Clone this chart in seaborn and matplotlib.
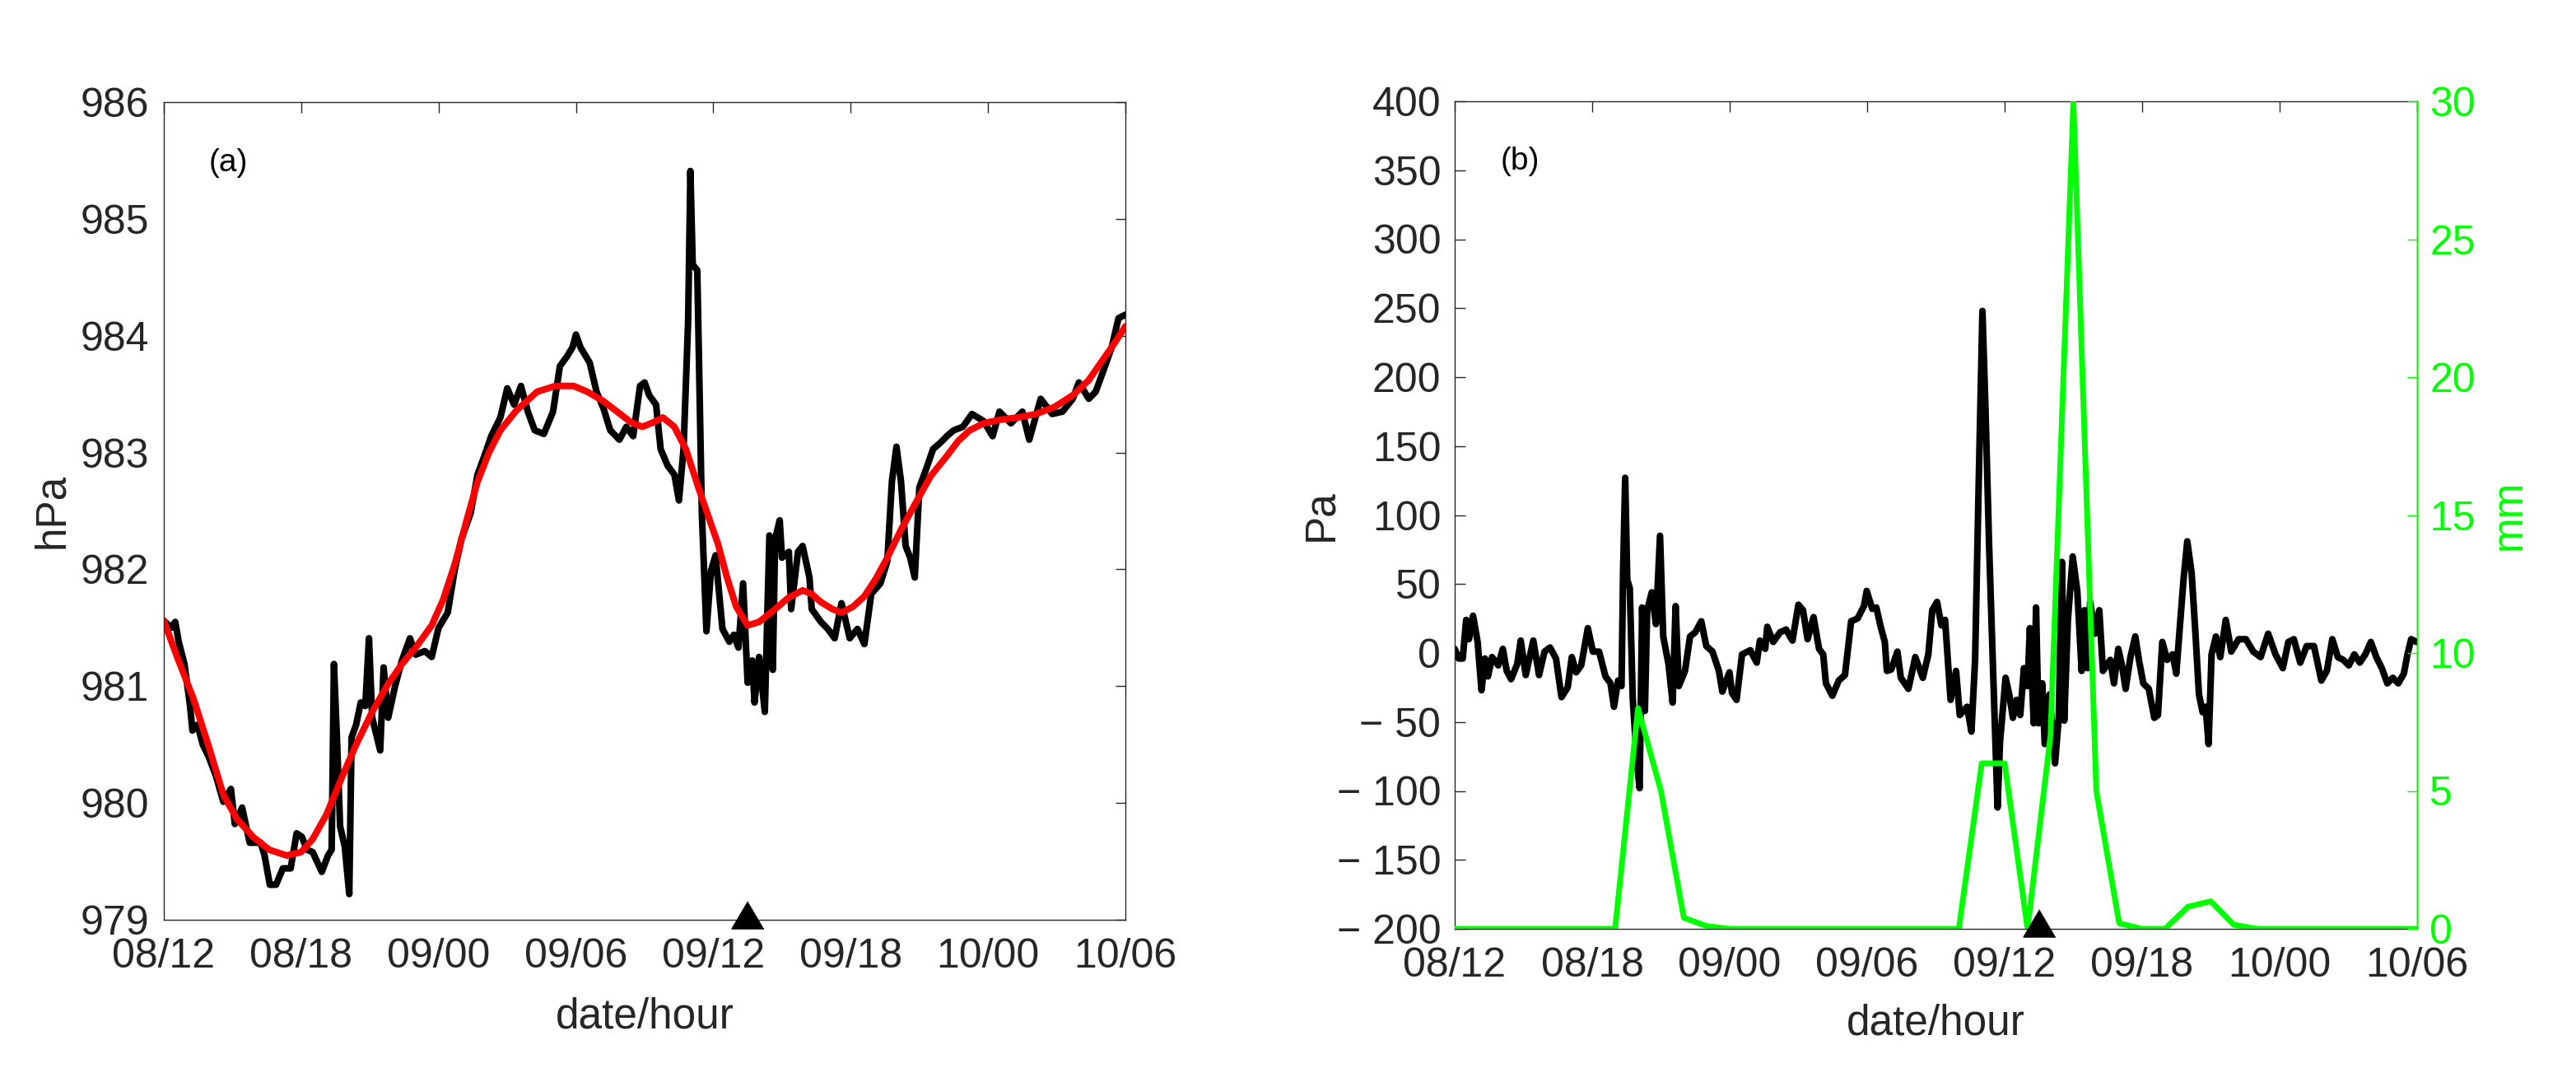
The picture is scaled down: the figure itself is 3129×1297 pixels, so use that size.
import matplotlib
matplotlib.use("Agg")
import matplotlib.pyplot as plt
import matplotlib.transforms as mtransforms
import seaborn as sns

# hours after 08/12 (day/hour)
hours_a = [0, 0.33, 0.5, 0.65, 0.9, 1.14, 1.25, 1.47, 1.7, 1.95, 2.28, 2.6, 2.93, 3.1, 3.42, 3.75,
           4.23, 4.4, 4.63, 4.9, 5.2, 5.54, 5.8, 6.03, 6.25, 6.5, 6.9, 7.17, 7.33, 7.43, 7.56, 7.7,
           7.9, 8.1, 8.2, 8.4, 8.6, 8.8, 8.96, 9.1, 9.45, 9.6, 9.8, 10.1, 10.4, 10.75, 11.0, 11.4,
           11.7, 12.0, 12.4, 12.7, 13.0, 13.4, 13.7, 14.0, 14.3, 14.7, 15.0, 15.3, 15.6, 15.9,
           16.2, 16.6, 17.0, 17.3, 17.6, 17.85, 18.0, 18.2, 18.6, 18.9, 19.2, 19.5, 19.9, 20.2,
           20.5, 20.8, 21.0, 21.2, 21.5, 21.7, 22.0, 22.3, 22.5, 22.7, 22.9, 23.0, 23.1, 23.3,
           23.5, 23.7, 23.9, 24.1, 24.4, 24.7, 24.9, 25.1, 25.3, 25.5, 25.7, 25.8, 26.0, 26.25,
           26.45, 26.6, 26.7, 26.9, 27.0, 27.3, 27.4, 27.7, 27.9, 28.2, 28.3, 28.7, 29.0, 29.3,
           29.6, 29.96, 30.3, 30.6, 30.9, 31.3, 31.6, 31.8, 32.0, 32.2, 32.4, 32.6, 32.8, 33.0,
           33.3, 33.6, 33.9, 34.2, 34.5, 34.9, 35.3, 35.8, 36.2, 36.5, 37.0, 37.5, 37.8, 38.3,
           38.8, 39.25, 39.7, 39.97, 40.4, 40.7, 41.0, 41.4, 41.7, 42.0]
press_a = [981.56, 981.5, 981.55, 981.38, 981.19, 980.84, 980.62, 980.67, 980.5, 980.4, 980.23,
           980.01, 980.12, 979.82, 979.96, 979.66, 979.66, 979.55, 979.3, 979.3, 979.44, 979.44,
           979.74, 979.71, 979.6, 979.58, 979.41, 979.55, 979.6, 981.19, 980.56, 979.8, 979.63,
           979.22, 980.56, 980.67, 980.86, 980.83, 981.41, 980.73, 980.45, 981.16, 980.73, 981.0,
           981.22, 981.41, 981.27, 981.3, 981.25, 981.5, 981.63, 981.99, 982.26, 982.48, 982.81,
           982.97, 983.14, 983.3, 983.55, 983.41, 983.57, 983.35, 983.19, 983.16, 983.35, 983.74,
           983.82, 983.9, 984.01, 983.9, 983.77, 983.52, 983.38, 983.19, 983.11, 983.22, 983.14,
           983.57, 983.6, 983.49, 983.41, 983.03, 982.89, 982.81, 982.59, 983.03, 984.12, 985.41,
           984.61, 984.56, 982.48, 981.47, 981.99, 982.12, 981.49, 981.38, 981.44, 981.33, 981.88,
           981.03, 981.22, 980.86, 981.25, 980.78, 982.29, 981.14, 982.26, 982.42, 982.1, 982.15,
           981.66, 982.15, 982.2, 981.93, 981.66, 981.55, 981.49, 981.41, 981.71, 981.41, 981.49,
           981.36, 981.79, 981.88, 982.07, 982.75, 983.05, 982.75, 982.2, 982.1, 981.93, 982.7,
           982.86, 983.03, 983.08, 983.14, 983.19, 983.22, 983.33, 983.27, 983.14, 983.35, 983.25,
           983.35, 983.11, 983.46, 983.33, 983.35, 983.46, 983.6, 983.46, 983.52, 983.68, 983.9,
           984.15, 984.18]

hours_fit = [0, 0.6, 1.3, 2.0, 2.6, 3.2, 3.9, 4.6, 5.37, 6.0, 6.5, 7.1, 7.8, 8.4, 9.1, 9.8,
             10.4, 11.0, 11.7, 12.2, 12.7, 13.2, 13.7, 14.2, 14.7, 15.4, 16.3, 17.1, 17.9, 18.5,
             19.2, 19.8, 20.4, 20.9, 21.4, 21.8, 22.3, 22.8, 23.4, 24.2, 24.6, 25.0, 25.5, 26.0,
             26.7, 27.3, 27.9, 28.3, 28.7, 29.2, 29.6, 30.1, 30.6, 31.1, 31.6, 32.2, 32.9, 33.5,
             34.2, 34.7, 35.2, 35.8, 36.5, 37.3, 38.1, 38.9, 39.7, 40.4, 41.0, 41.5, 42.0]
press_fit = [981.56, 981.24, 980.89, 980.46, 980.07, 979.86, 979.71, 979.6, 979.55, 979.58,
             979.69, 979.9, 980.23, 980.5, 980.78, 981.02, 981.19, 981.33, 981.52, 981.74,
             982.04, 982.4, 982.75, 983.0, 983.19, 983.36, 983.52, 983.57, 983.57, 983.52,
             983.44, 983.35, 983.26, 983.22, 983.26, 983.3, 983.22, 983.03, 982.67, 982.22,
             981.93, 981.68, 981.52, 981.55, 981.66, 981.76, 981.82, 981.79, 981.72, 981.66,
             981.63, 981.68, 981.77, 981.92, 982.1, 982.34, 982.59, 982.8, 982.97, 983.1,
             983.19, 983.25, 983.28, 983.3, 983.33, 983.39, 983.49, 983.62, 983.79, 983.93,
             984.08]

hours_b = [0, 0.17, 0.35, 0.5, 0.62, 0.8, 1.0, 1.17, 1.32, 1.45, 1.63, 1.9, 2.1, 2.27, 2.46,
           2.73, 2.88, 3.1, 3.43, 3.68, 3.92, 4.16, 4.42, 4.66, 4.93, 5.11, 5.3, 5.52, 5.81,
           6.03, 6.3, 6.58, 6.8, 6.95, 7.13, 7.28, 7.35, 7.44, 7.53, 7.64, 7.77, 7.95, 8.07,
           8.18, 8.3, 8.4, 8.6, 8.78, 8.96, 9.1, 9.33, 9.51, 9.64, 9.78, 10.05, 10.27, 10.5,
           10.76, 10.98, 11.25, 11.53, 11.68, 11.99, 12.1, 12.3, 12.54, 12.9, 13.18, 13.32,
           13.55, 13.64, 13.9, 14.2, 14.46, 14.74, 15.0, 15.2, 15.4, 15.66, 15.9, 16.08, 16.2,
           16.48, 16.76, 17.03, 17.3, 17.58, 17.86, 17.98, 18.22, 18.4, 18.59, 18.77, 18.86,
           19.05, 19.32, 19.47, 19.8, 20.1, 20.43, 20.67, 20.84, 21.05, 21.24, 21.4, 21.64,
           21.88, 22.04, 22.36, 22.55, 22.71, 22.87, 23.03, 23.16, 23.32, 23.48, 23.69, 23.8,
           24.04, 24.2, 24.36, 24.52, 24.68, 24.84, 25.0, 25.1, 25.27, 25.37, 25.48, 25.64,
           25.75, 25.96, 26.2, 26.36, 26.5, 26.6, 26.76, 26.97, 27.17, 27.36, 27.49, 27.62,
           27.73, 27.94, 28.13, 28.29, 28.61, 28.77, 28.96, 29.12, 29.28, 29.49, 29.7, 29.86,
           30.05, 30.29, 30.53, 30.69, 30.88, 31.09, 31.33, 31.49, 31.65, 31.81, 31.97, 32.16,
           32.32, 32.48, 32.64, 32.77, 32.9, 33.03, 33.22, 33.41, 33.65, 33.89, 34.21, 34.53,
           34.85, 35.17, 35.5, 35.82, 36.14, 36.38, 36.62, 36.9, 37.18, 37.5, 37.82, 38.06,
           38.3, 38.54, 38.78, 39.02, 39.26, 39.5, 39.74, 39.98, 40.22, 40.46, 40.7, 40.94,
           41.18, 41.42, 41.58, 41.74, 41.98]
anom_b = [3, -4, -4, 24, 10, 27, 8, -27, -4, -17, -3, -9, 3, -13, -19, -8, 9, -16, 9, -16, 1,
          4, -4, -32, -25, -3, -14, -9, 18, 1, 1, -17, -22, -39, -20, -24, 60, 127, 53, 47, -33,
          -79, -98, 33, -42, 31, 44, 21, 85, 12, -8, -36, 34, -24, -13, 12, 15, 23, 5, 1, -13,
          -28, -14, -29, -34, -1, 2, -7, 9, 3, 19, 8, 15, 17, 9, 35, 31, 10, 26, 3, -1, -22, -31,
          -20, -16, 23, 25, 34, 45, 32, 33, 19, 8, -13, -12, 1, -18, -26, -3, -18, -1, 31, 37,
          20, 24, -34, -13, -45, -39, -57, -5, 125, 248, 179, 79, -5, -112, -64, -18, -30, -47,
          -34, -45, -11, -24, 18, -51, 33, -51, -22, -66, -30, -80, -47, 66, -49, 24, 70, 45,
          -13, 31, -11, 37, 14, 31, -13, -5, -22, 3, -9, -26, -3, 12, -5, -22, -26, -47, -45, 8,
          -5, -1, -15, 20, 54, 81, 58, 16, -30, -43, -39, -66, -1, 12, -3, 24, 1, 10, 10, 1, -3,
          14, -1, -11, 8, 10, -7, 5, 5, -20, -13, 10, -3, -5, -9, -1, -7, -1, 8, -3, -11, -22,
          -18, -22, -15, -1, 10, 8]

rain_hours = list(range(43))
rain_mm = [0, 0, 0, 0, 0, 0, 0, 0, 8, 5, 0.4, 0.1, 0, 0, 0, 0, 0, 0, 0, 0, 0, 0, 0, 6, 6, 0,
           7, 30, 5, 0.2, 0, 0, 0.8, 1.0, 0.15, 0, 0, 0, 0, 0, 0, 0, 0]

event_hour = 25.5
tick_hours = [0, 6, 12, 18, 24, 30, 36, 42]
tick_labels = ["08/12", "08/18", "09/00", "09/06", "09/12", "09/18", "10/00", "10/06"]

sns.set_theme(style="white")
plt.rcParams['font.family'] = ['Liberation Sans', 'DejaVu Sans']

dark = "#262626"
green = "#00ff00"
tri = [(0, 0.85), (-1, -0.85), (1, -0.85)]

fig = plt.figure(figsize=(31.29, 12.97), dpi=100)
ax_a = fig.add_axes([199 / 3129, 180 / 1297, 1168 / 3129, 993 / 1297])
ax_b = fig.add_axes([1767 / 3129, 169 / 1297, 1169 / 3129, 1005 / 1297])


def style_axes(ax):
    for s in ax.spines.values():
        s.set_color(dark)
        s.set_linewidth(1.0)
        s.set_visible(True)
    ax.tick_params(direction="in", length=9, width=1, colors=dark, labelsize=36,
                   top=True, right=True)
    ax.tick_params(axis="x", pad=16)
    ax.set_xlim(0, 42)
    ax.set_xticks(tick_hours)
    ax.set_xticklabels(tick_labels)
    ax.set_xlabel("date/hour", fontsize=37, color=dark)
    ax.grid(False)


# panel (a)
sns.lineplot(x=hours_a, y=press_a, ax=ax_a, color="black", linewidth=5.8,
             estimator=None, sort=False)
sns.lineplot(x=hours_fit, y=press_fit, ax=ax_a, color="red", linewidth=5.8,
             estimator=None, sort=False)
style_axes(ax_a)
ax_a.set_ylim(979, 986)
ax_a.set_yticks(range(979, 987))
ax_a.tick_params(axis="y", pad=13)
ax_a.set_ylabel("hPa", fontsize=37, color=dark)
ax_a.yaxis.set_label_coords(-0.095, 0.5)
ax_a.xaxis.set_label_coords(0.5, -0.094)
ax_a.text(0.067, 0.925, "(a)", transform=ax_a.transAxes, fontsize=28,
          color="black", ha="center", va="center")
off_a = mtransforms.offset_copy(ax_a.transData, fig=fig, x=0, y=6, units="dots")
ax_a.plot([event_hour], [979], marker=tri, markersize=28, color="black",
          linestyle="none", clip_on=False, transform=off_a, zorder=5)

# panel (b)
sns.lineplot(x=hours_b, y=anom_b, ax=ax_b, color="black", linewidth=5.8,
             estimator=None, sort=False)
style_axes(ax_b)
ax_b.set_ylim(-200, 400)
pa_ticks = list(range(-200, 401, 50))
ax_b.set_yticks(pa_ticks)
ax_b.set_yticklabels([f"\u2212 {abs(v)}" if v < 0 else str(v) for v in pa_ticks])
ax_b.tick_params(axis="y", pad=12)
ax_b.set_ylabel("Pa", fontsize=37, color=dark)
ax_b.yaxis.set_label_coords(-0.118, 0.5)
ax_b.xaxis.set_label_coords(0.5, -0.09)
ax_b.text(0.068, 0.927, "(b)", transform=ax_b.transAxes, fontsize=28,
          color="black", ha="center", va="center")

ax2 = ax_b.twinx()
sns.lineplot(x=rain_hours, y=rain_mm, ax=ax2, color=green, linewidth=5,
             estimator=None, sort=False)
ax2.set_ylim(0, 30)
ax2.set_yticks(range(0, 31, 5))
ax2.tick_params(axis="y", direction="in", length=9, width=1, colors=green,
                labelsize=36, pad=11)
for side in ["left", "top", "bottom"]:
    ax2.spines[side].set_visible(False)
ax2.spines["right"].set_color(green)
ax2.spines["right"].set_linewidth(1.0)
ax2.set_ylabel("mm", fontsize=37, color=green)
ax2.yaxis.set_label_coords(1.075, 0.5)
ax2.grid(False)
off_b = mtransforms.offset_copy(ax2.transData, fig=fig, x=0, y=7, units="dots")
ax2.plot([event_hour], [0], marker=tri, markersize=28, color="black",
         linestyle="none", clip_on=False, transform=off_b, zorder=5)

fig.savefig("out.png", dpi=100)
